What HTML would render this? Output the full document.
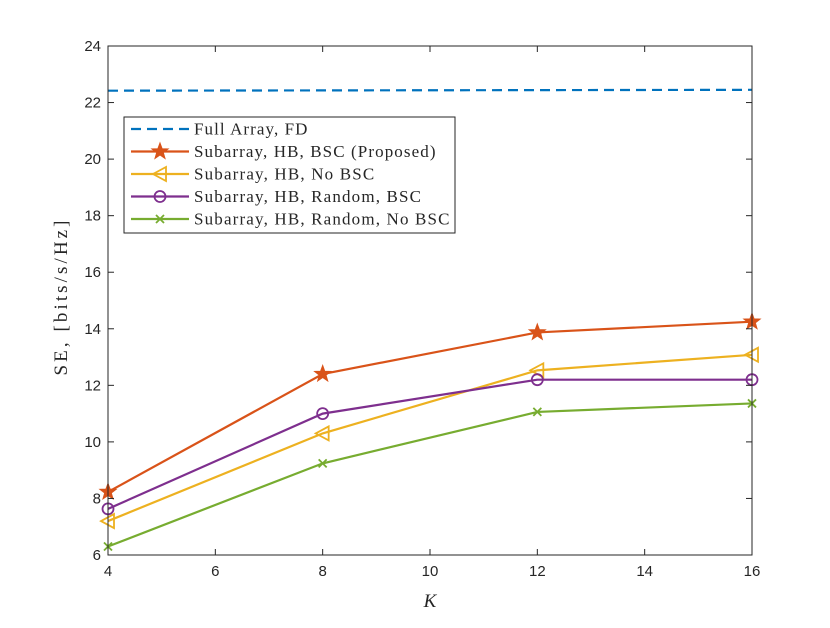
<!DOCTYPE html>
<html><head><meta charset="utf-8"><style>
body{margin:0;background:#fff}
svg text{fill:#262626}
</style></head><body>
<svg width="830" height="623" viewBox="0 0 830 623">
<rect x="0" y="0" width="830" height="623" fill="#fff"/>
<g id="grid"></g>
<g id="series"></g>
<g id="axes"></g>
<g id="legend"></g>
</svg>
<script>
const kValues=[4,8,12,16];
const fullArray=[22.42,22.43,22.44,22.45];
const proposed=[8.23,12.4,13.87,14.25];
const noBsc=[7.2,10.3,12.53,13.08];
const randomBsc=[7.63,11.0,12.2,12.2];
const randomNoBsc=[6.3,9.24,11.06,11.36];
const xTicks=[4,6,8,10,12,14,16];
const yTicks=[6,8,10,12,14,16,18,20,22,24];
const legendLabels=["Full Array, FD","Subarray, HB, BSC (Proposed)","Subarray, HB, No BSC","Subarray, HB, Random, BSC","Subarray, HB, Random, No BSC"];

const NS="http://www.w3.org/2000/svg";
const L=108,R=752,T=46,B=555;
const SANS='font-family:"Liberation Sans",sans-serif';
const SERIF='font-family:"Liberation Serif",serif';
const xs=v=>L+(v-4)/12*(R-L);
const ys=v=>B-(v-6)/18*(B-T);
function mk(tag,attrs,parent){const e=document.createElementNS(NS,tag);for(const k in attrs)e.setAttribute(k,attrs[k]);parent.appendChild(e);return e;}
const axes=document.getElementById('axes'),ser=document.getElementById('series'),leg=document.getElementById('legend');

const box=mk('rect',{x:L,y:T,width:R-L,height:B-T,fill:'none',stroke:'#262626','stroke-width':1},axes);


xTicks.forEach(t=>{
 const x=xs(t);
 mk('line',{x1:x,y1:B,x2:x,y2:B-6,stroke:'#262626'},axes);
 mk('line',{x1:x,y1:T,x2:x,y2:T+6,stroke:'#262626'},axes);
 const tx=mk('text',{x:x,y:B+21,'text-anchor':'middle','font-size':15,style:SANS},axes);tx.textContent=t;
 
 
});
yTicks.forEach(t=>{
 const y=ys(t);
 mk('line',{x1:L,y1:y,x2:L+6,y2:y,stroke:'#262626'},axes);
 mk('line',{x1:R,y1:y,x2:R-6,y2:y,stroke:'#262626'},axes);
 const tx=mk('text',{x:L-7,y:y+5,'text-anchor':'end','font-size':15,style:SANS},axes);tx.textContent=t;
 
 
});
const xt=mk('text',{x:430,y:607,'text-anchor':'middle','font-size':19,'font-style':'italic',style:SERIF},axes);xt.textContent='K';


const yt=mk('text',{x:0,y:0,'text-anchor':'middle','font-size':19,style:SERIF,textLength:155,lengthAdjust:'spacing',transform:'translate(67,298) rotate(-90)'},axes);yt.textContent='SE, [bits/s/Hz]';



function marker(type,x,y,c,p){
 if(type==='star'){let pts=[];for(let i=0;i<10;i++){const r=i%2?3.5:8.5,a=-Math.PI/2+i*Math.PI/5;pts.push((x+r*Math.cos(a)).toFixed(1)+','+(y+r*Math.sin(a)).toFixed(1));}
  mk('polygon',{points:pts.join(' '),fill:c,stroke:c},p);}
 else if(type==='tri'){mk('polygon',{points:`${x-7},${y} ${x+6},${y-7} ${x+6},${y+7}`,fill:'none',stroke:c,'stroke-width':1.8},p);}
 else if(type==='circ'){mk('circle',{cx:x,cy:y,r:5.5,fill:'none',stroke:c,'stroke-width':1.8},p);}
 else if(type==='x'){mk('path',{d:`M${x-4},${y-4}L${x+4},${y+4}M${x-4},${y+4}L${x+4},${y-4}`,stroke:c,'stroke-width':1.8},p);}
}
const defs=[
 {d:fullArray,c:'#0072BD',m:null,dash:'10,6',name:'series-full-array'},
 {d:proposed,c:'#D95319',m:'star',name:'series-proposed'},
 {d:noBsc,c:'#EDB120',m:'tri',name:'series-no-bsc'},
 {d:randomBsc,c:'#7E2F8E',m:'circ',name:'series-random-bsc'},
 {d:randomNoBsc,c:'#77AC30',m:'x',name:'series-random-no-bsc'}];
defs.forEach(s=>{
 const g=mk('g',{},ser);
 
 
 const pts=s.d.map((v,i)=>xs(kValues[i])+','+ys(v)).join(' ');
 const pl=mk('polyline',{points:pts,fill:'none',stroke:s.c,'stroke-width':2.2},g);
 if(s.dash)pl.setAttribute('stroke-dasharray',s.dash);
 if(s.m)s.d.forEach((v,i)=>marker(s.m,xs(kValues[i]),ys(v),s.c,g));
});
const lb=mk('rect',{x:124,y:117,width:331,height:116,fill:'#fff',stroke:'#262626','stroke-width':1},leg);


defs.forEach((s,i)=>{
 const y=129+i*22.5;
 const g=mk('g',{},leg);
 
 
 const ln=mk('line',{x1:131,y1:y,x2:189,y2:y,stroke:s.c,'stroke-width':2.2},g);
 if(s.dash)ln.setAttribute('stroke-dasharray',s.dash);
 if(s.m)marker(s.m,160,y,s.c,g);
 const t=mk('text',{x:194,y:y+5.5,'font-size':17,style:SERIF},g);t.textContent=legendLabels[i];
 const w=t.getComputedTextLength();
 t.setAttribute('textLength',(w*1.14).toFixed(1));
 t.setAttribute('lengthAdjust','spacing');
});
</script>
</body></html>
